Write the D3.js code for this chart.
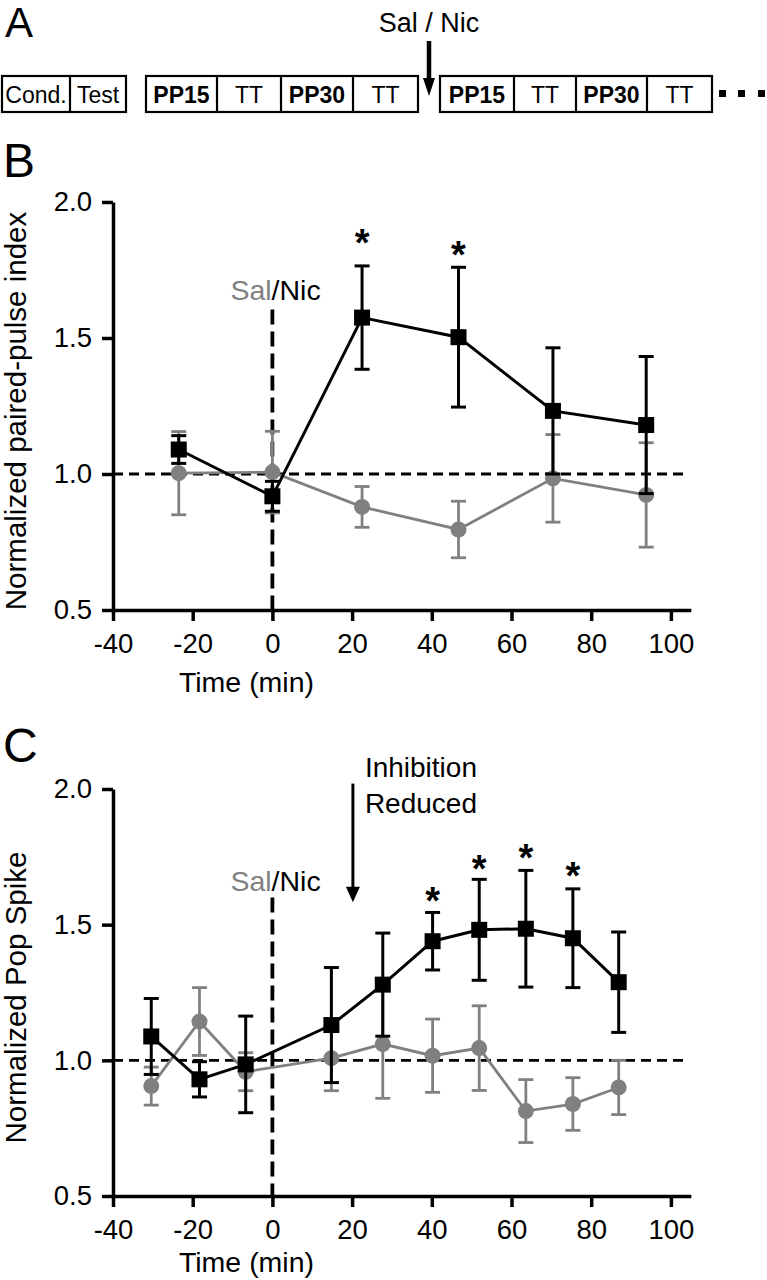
<!DOCTYPE html>
<html>
<head>
<meta charset="utf-8">
<script src="https://cdn.jsdelivr.net/npm/d3@7"></script>
<style>
  html, body { margin: 0; padding: 0; background: #fff; }
  svg { display: block; }
  text { font-family: "Liberation Sans", Arial, Helvetica, sans-serif; }
</style>
</head>
<body>
<svg id="fig" width="767" height="1280"></svg>
<script>
// ---------------- DATA ----------------
// Panel A: protocol boxes
const protocolGroups = [
  ["Cond.", "Test"],
  ["PP15", "TT", "PP30", "TT"],
  ["PP15", "TT", "PP30", "TT"]
];
const drugLabelA = "Sal / Nic";

// Panel B: normalized paired-pulse index
const timeB = [-23.5, 0, 22.5, 46.7, 70.4, 93.8];
const nicB = [1.09, 0.918, 1.575, 1.503, 1.232, 1.18];
const nicBErr = [0.051, 0.055, 0.19, 0.257, 0.232, 0.252];
const salB = [1.003, 1.007, 0.879, 0.796, 0.984, 0.923];
const salBErr = [0.153, 0.15, 0.075, 0.104, 0.161, 0.192];
const starTimesB = [22.5, 46.7];
const starLevelsB = [1.884, 1.838];

// Panel C: normalized pop spike
const timeC = [-30.4, -18.3, -6.7, 14.8, 27.7, 40.2, 51.9, 63.6, 75.4, 86.9];
const nicC = [1.088, 0.93, 0.985, 1.13, 1.279, 1.439, 1.481, 1.485, 1.45, 1.288];
const nicCErr = [0.14, 0.065, 0.178, 0.212, 0.19, 0.106, 0.186, 0.215, 0.182, 0.185];
const salC = [0.905, 1.143, 0.958, 1.008, 1.06, 1.017, 1.045, 0.813, 0.839, 0.9];
const salCErr = [0.07, 0.125, 0.07, 0.12, 0.2, 0.135, 0.156, 0.116, 0.097, 0.1];
const starTimesC = [40.2, 51.9, 63.6, 75.4];
const starLevelsC = [1.621, 1.738, 1.78, 1.712];

// Axis ticks
const xTicks = [-40, -20, 0, 20, 40, 60, 80, 100];
const yTicks = [0.5, 1.0, 1.5, 2.0];
const xDomain = [-40, 105];
const yDomain = [0.5, 2.0];

// Texts
const xTitle = "Time (min)";
const yTitleB = "Normalized paired-pulse index";
const yTitleC = "Normalized Pop Spike";
const inhibitionText = ["Inhibition", "Reduced"];
const inhibitionTime = 20.2;

// ---------------- DRAW ----------------
const GRAY = "#808080";
const svg = d3.select("#fig");
svg.append("rect").attr("width", 767).attr("height", 1280).attr("fill", "#fff");

// ---- Panel A ----
const gA = svg.append("g");
gA.append("text").attr("x", 5).attr("y", 37).attr("font-size", 42).text("A");

const groupEdges = [[2, 70, 126], [146, 217, 281, 353, 418], [440, 514, 576, 647, 712]];
const boxTop = 76, boxBottom = 112;
protocolGroups.forEach((labels, gi) => {
  const edges = groupEdges[gi];
  gA.append("rect")
    .attr("x", edges[0]).attr("y", boxTop)
    .attr("width", edges[edges.length - 1] - edges[0]).attr("height", boxBottom - boxTop)
    .attr("fill", "none").attr("stroke", "#000").attr("stroke-width", 2.2);
  labels.forEach((lab, i) => {
    if (i > 0) {
      gA.append("line").attr("x1", edges[i]).attr("x2", edges[i])
        .attr("y1", boxTop).attr("y2", boxBottom)
        .attr("stroke", "#000").attr("stroke-width", 2.2);
    }
    const bold = lab.startsWith("PP");
    gA.append("text")
      .attr("x", (edges[i] + edges[i + 1]) / 2).attr("y", 102.5)
      .attr("text-anchor", "middle")
      .attr("font-size", 23)
      .attr("font-weight", bold ? "bold" : "normal")
      .text(lab);
  });
});
// continuation dots
[719, 738, 758].forEach(x => {
  gA.append("rect").attr("x", x).attr("y", 90).attr("width", 7).attr("height", 7).attr("fill", "#000");
});
// Sal / Nic arrow
gA.append("text").attr("x", 429).attr("y", 32).attr("text-anchor", "middle")
  .attr("font-size", 27).text(drugLabelA);
gA.append("line").attr("x1", 429).attr("x2", 429).attr("y1", 41).attr("y2", 80)
  .attr("stroke", "#000").attr("stroke-width", 4.5);
gA.append("path").attr("d", "M423,78 L435,78 L429,96 Z").attr("fill", "#000");

// ---- Generic panel ----
function drawPanel(opts) {
  const x = d3.scaleLinear().domain(xDomain).range([113, 113 + 145 * 3.985]);
  const y = d3.scaleLinear().domain(yDomain).range([opts.bottom, opts.top]);
  const g = svg.append("g");

  // panel letter
  g.append("text").attr("x", 3).attr("y", opts.letterY).attr("font-size", 48).text(opts.letter);

  // axes
  const xAxis = d3.axisBottom(x).tickValues(xTicks).tickSize(11).tickSizeOuter(0).tickPadding(12)
    .tickFormat(d => String(d));
  const yAxis = d3.axisLeft(y).tickValues(yTicks).tickSize(11).tickSizeOuter(0).tickPadding(10)
    .tickFormat(d => d.toFixed(1));
  const gx = g.append("g").attr("transform", `translate(0,${opts.bottom})`).call(xAxis);
  const gy = g.append("g").attr("transform", `translate(113,0)`).call(yAxis);
  [gx, gy].forEach(a => {
    a.select(".domain").attr("stroke", "#000").attr("stroke-width", 3.5);
    a.selectAll(".tick line").attr("stroke", "#000").attr("stroke-width", 3.5);
    a.selectAll(".tick text").attr("font-size", 27.5).attr("fill", "#000")
      .attr("font-family", "'Liberation Sans', Arial, sans-serif");
  });

  // axis titles
  g.append("text").attr("x", x(-6.5)).attr("y", opts.bottom + opts.xTitleOffset)
    .attr("text-anchor", "middle").attr("font-size", 28.5).text(xTitle);
  g.append("text")
    .attr("transform", `translate(26,${(opts.top + opts.bottom) / 2 + 5}) rotate(-90)`)
    .attr("text-anchor", "middle").attr("font-size", 29.5).text(opts.yTitle);

  // reference lines
  g.append("line").attr("x1", x(-40)).attr("x2", x(104)).attr("y1", y(1)).attr("y2", y(1))
    .attr("stroke", "#000").attr("stroke-width", 2.8).attr("stroke-dasharray", "10,6");
  g.append("line").attr("x1", x(0)).attr("x2", x(0)).attr("y1", y(opts.dashTop)).attr("y2", opts.bottom)
    .attr("stroke", "#000").attr("stroke-width", 3.8).attr("stroke-dasharray", "15,7");

  // Sal/Nic label
  const lbl = g.append("text").attr("x", x(0) - 42).attr("y", y(opts.labelLevel)).attr("font-size", 28.5);
  lbl.append("tspan").attr("fill", GRAY).text("Sal");
  lbl.append("tspan").attr("fill", "#000").text("/Nic");

  function series(times, vals, errs, color, shape, sw) {
    const sg = g.append("g");
    const line = d3.line().x((d, i) => x(times[i])).y(d => y(d));
    sg.append("path").attr("d", line(vals)).attr("fill", "none")
      .attr("stroke", color).attr("stroke-width", sw);
    vals.forEach((v, i) => {
      const cx = x(times[i]);
      const hi = y(v + errs[i]), lo = y(v - errs[i]);
      sg.append("line").attr("x1", cx).attr("x2", cx).attr("y1", hi).attr("y2", lo)
        .attr("stroke", color).attr("stroke-width", sw);
      [hi, lo].forEach(yy => sg.append("line").attr("x1", cx - 7.5).attr("x2", cx + 7.5)
        .attr("y1", yy).attr("y2", yy).attr("stroke", color).attr("stroke-width", sw));
    });
    vals.forEach((v, i) => {
      if (shape === "square") {
        sg.append("rect").attr("x", x(times[i]) - 8).attr("y", y(v) - 8)
          .attr("width", 16).attr("height", 16).attr("fill", color);
      } else {
        sg.append("circle").attr("cx", x(times[i])).attr("cy", y(v)).attr("r", 8).attr("fill", color);
      }
    });
  }
  series(opts.t, opts.sal, opts.salErr, GRAY, "circle", 2.8);
  series(opts.t, opts.nic, opts.nicErr, "#000", "square", 3);

  // significance stars
  opts.starT.forEach((t, i) => {
    g.append("text").attr("x", x(t)).attr("y", y(opts.starV[i]) + 22)
      .attr("text-anchor", "middle").attr("font-size", 38).attr("font-weight", "bold").text("*");
  });
  return { g, x, y };
}

drawPanel({
  letter: "B", letterY: 177, top: 202, bottom: 610, xTitleOffset: 82,
  yTitle: yTitleB, dashTop: 1.605, labelLevel: 1.64,
  t: timeB, nic: nicB, nicErr: nicBErr, sal: salB, salErr: salBErr,
  starT: starTimesB, starV: starLevelsB
});

const pc = drawPanel({
  letter: "C", letterY: 762, top: 789, bottom: 1196, xTitleOffset: 76,
  yTitle: yTitleC, dashTop: 1.6, labelLevel: 1.625,
  t: timeC, nic: nicC, nicErr: nicCErr, sal: salC, salErr: salCErr,
  starT: starTimesC, starV: starLevelsC
});

// Inhibition reduced arrow (panel C)
const ax = pc.x(inhibitionTime);
pc.g.append("line").attr("x1", ax).attr("x2", ax).attr("y1", pc.y(2.02)).attr("y2", pc.y(1.63))
  .attr("stroke", "#000").attr("stroke-width", 3);
pc.g.append("path")
  .attr("d", `M${ax - 7},${pc.y(1.64)} L${ax + 7},${pc.y(1.64)} L${ax},${pc.y(1.583)} Z`)
  .attr("fill", "#000");
inhibitionText.forEach((s, i) => {
  pc.g.append("text").attr("x", ax + 12).attr("y", pc.y(i === 0 ? 2.045 : 1.912))
    .attr("font-size", 28).text(s);
});
</script>
</body>
</html>
